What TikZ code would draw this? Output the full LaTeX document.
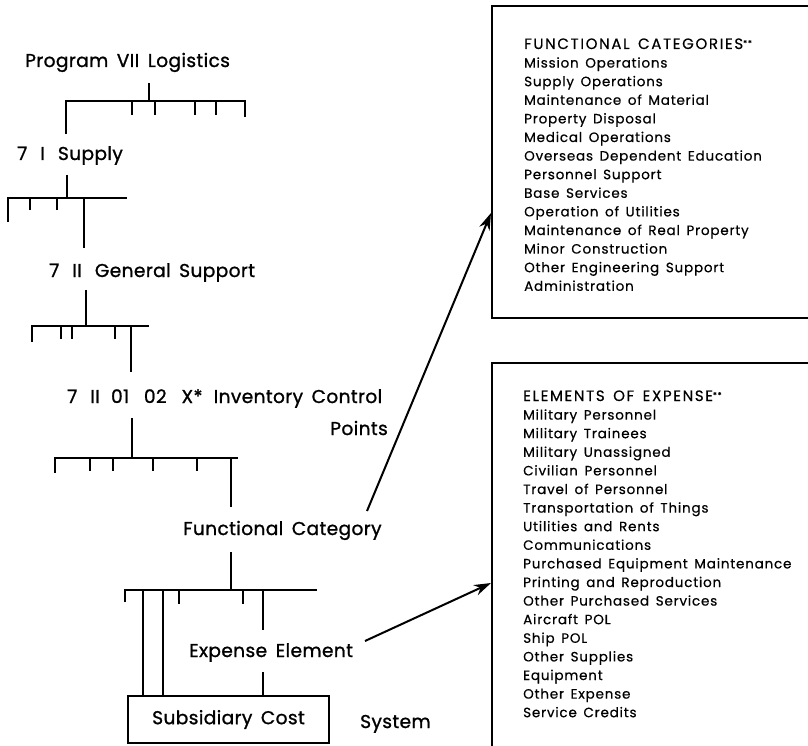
\documentclass[tikz,border=0pt]{standalone}
\usepackage{fontspec}
\setmainfont{Poppins}
\newfontfamily\lblfont{Poppins}[FakeBold=1.1, LetterSpace=2, WordSpace=1.6]
\newfontfamily\itemfont{Poppins}[FakeBold=0.5, LetterSpace=6, WordSpace=1.5]
\newfontfamily\headfont{Poppins}[FakeBold=0.5, LetterSpace=11, WordSpace=1.5]
\usetikzlibrary{arrows.meta}
\begin{document}
\begin{tikzpicture}[x=1pt,y=-1pt,
  tree/.style={line width=1.8pt},
  lbl/.style={anchor=base west, inner sep=0pt, font=\lblfont\fontsize{18.6}{18.6}\selectfont},
  item/.style={anchor=base west, inner sep=0pt, font=\itemfont\fontsize{13.5}{13.5}\selectfont},
  head/.style={anchor=base west, inner sep=0pt, font=\headfont\fontsize{15}{15}\selectfont},
  frame/.style={line width=1.6pt},
  pointer/.style={line width=2pt, -{Stealth[length=17pt,width=11pt]}}]
\useasboundingbox (0,0) rectangle (808,746);
\clip (0,0) rectangle (808,746);

% ---------- labels of the hierarchy ----------
\node[lbl] (prog) at (25,67) {Program VII Logistics};
\node[lbl] (supply) at (17,160) {7\hspace{0.7em}I\hspace{0.7em}Supply};
\node[lbl] (gensup) at (49,277) {7\hspace{0.7em}II\hspace{0.7em}General Support};
\node[lbl] (icp) at (67,403) {7\hspace{0.7em}II\hspace{0.6em}01\hspace{0.8em}02\hspace{0.8em}X*\hspace{0.6em}Inventory Control};
\node[lbl, anchor=base east] (points) at (388,435) {Points};
\node[lbl] (fcat) at (183,535) {Functional Category};
\node[lbl] (expel) at (189,657) {Expense Element};
\node[draw, frame, minimum width=201pt, minimum height=47pt, inner sep=0pt,
      font=\lblfont\fontsize{18.6}{18.6}\selectfont] (subcost) at (228.5,719.5) {Subsidiary Cost};
\node[lbl] (system) at (360,728) {System};

% ---------- level 1: Program ----------
\coordinate (s1) at (149,83);  \coordinate (j1) at (149,101);
\coordinate (l1) at (66,101);  \coordinate (r1) at (245,101);
\draw[tree] (s1) -- (j1);
\draw[tree] (66,134) -- (l1) -- (r1) -- (245,117);
\foreach \x in {132,155,195,216} \draw[tree] (\x,101) -- (\x,115);

% ---------- level 2: Supply ----------
\coordinate (s2) at (67,175);  \coordinate (j2) at (67,198);
\draw[tree] (s2) -- (j2);
\draw[tree] (8,222) -- (8,198) -- (127,198);
\foreach \x in {30,57} \draw[tree] (\x,198) -- (\x,210);
\draw[tree] (84,198) -- (84,248);

% ---------- level 3: General Support ----------
\coordinate (s3) at (86,290);  \coordinate (j3) at (86,326);
\draw[tree] (s3) -- (j3);
\draw[tree] (32,342) -- (32,326) -- (149,326);
\foreach \x in {61,72,115} \draw[tree] (\x,326) -- (\x,339);
\draw[tree] (131,326) -- (131,372);

% ---------- level 4: Inventory Control Points ----------
\coordinate (s4) at (132,418);  \coordinate (j4) at (132,458);
\draw[tree] (s4) -- (j4);
\draw[tree] (55,473) -- (55,458) -- (238,458);
\foreach \x in {90,113,153,197} \draw[tree] (\x,458) -- (\x,471);
\draw[tree] (231,458) -- (231,507);

% ---------- level 5: Functional Category ----------
\coordinate (s5) at (231,552);  \coordinate (j5) at (231,590);
\draw[tree] (s5) -- (j5);
\draw[tree] (125,602) -- (125,590) -- (317,590);
\foreach \x in {179,243} \draw[tree] (\x,590) -- (\x,604);
\draw[tree] (143,590) -- (subcost.north -| 143,0);
\draw[tree] (163,590) -- (subcost.north -| 163,0);
\draw[tree] (263,590) -- (263,630);
\coordinate (s6) at (263,672);
\draw[tree] (s6) -- (subcost.north -| s6);

% ---------- list of functional categories ----------
\draw[frame] (820,6) -- (492,6) -- (492,318) -- (820,318);
\node[head] (fc0) at (524,49) {FUNCTIONAL CATEGORIES\raisebox{3pt}{\fontsize{8}{8}\selectfont **}};
\foreach \t [count=\i from 1] in {%
  Mission Operations, Supply Operations, Maintenance of Material,
  Property Disposal, Medical Operations, Overseas Dependent Education,
  Personnel Support, Base Services, Operation of Utilities,
  Maintenance of Real Property, Minor Construction,
  Other Engineering Support, Administration}
  \node[item] (fc\i) at (524,{49+18.6*\i}) {\t};

% ---------- list of elements of expense ----------
\draw[frame] (820,363) -- (492,363) -- (492,760);
\node[head] (ee0) at (523,401) {ELEMENTS OF EXPENSE\raisebox{3pt}{\fontsize{8}{8}\selectfont **}};
\foreach \t [count=\i from 1] in {%
  Military Personnel, Military Trainees, Military Unassigned,
  Civilian Personnel, Travel of Personnel, Transportation of Things,
  Utilities and Rents, Communications, Purchased Equipment Maintenance,
  Printing and Reproduction, Other Purchased Services, Aircraft POL,
  Ship POL, Other Supplies, Equipment, Other Expense, Service Credits}
  \node[item] (ee\i) at (523,{401+18.6*\i}) {\t};

% ---------- pointers to the lists ----------
\coordinate (p1) at (367,511);  \coordinate (q1) at (491,213);
\coordinate (p2) at (365,641);  \coordinate (q2) at (491,583);
\draw[pointer] (p1) -- (q1);
\draw[pointer] (p2) -- (q2);
\end{tikzpicture}
\end{document}
